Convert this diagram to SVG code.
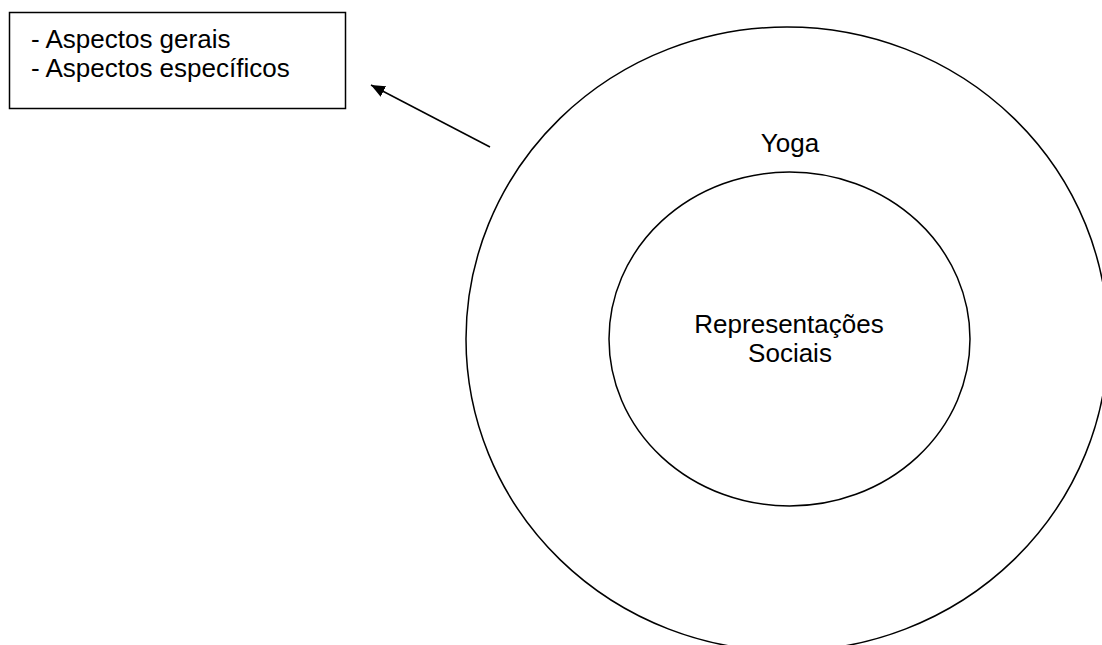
<svg xmlns="http://www.w3.org/2000/svg" width="1102" height="645" viewBox="0 0 1102 645">
<style>
.shape{fill:none;stroke:#000;stroke-width:1.5}
.t{font-family:"Liberation Sans",Arial,sans-serif;font-size:26px;fill:#000}
.c{text-anchor:middle}
</style>
<defs>
<marker id="ah" markerWidth="14" markerHeight="12" refX="14" refY="6" orient="auto" markerUnits="userSpaceOnUse">
<path d="M0,0 L14,6 L0,12 Z" fill="#000"/>
</marker>
</defs>
<rect width="1102" height="645" fill="#fff"/>
<g id="aspectos">
<rect class="shape" x="9.5" y="12.5" width="336" height="96"/>
<text class="t" x="31" y="48">- Aspectos gerais</text>
<text class="t" x="31" y="76.5">- Aspectos específicos</text>
</g>
<g id="yoga">
<ellipse class="shape" cx="787" cy="339" rx="321" ry="312"/>
<text class="t c" x="790" y="151.5">Yoga</text>
</g>
<g id="representacoes">
<ellipse class="shape" cx="789.5" cy="339" rx="180.5" ry="167"/>
<text class="t c" x="789" y="333">Representações</text>
<text class="t c" x="790" y="361.5">Sociais</text>
</g>
<g id="connectors">
<line x1="490" y1="147" x2="371" y2="85" stroke="#000" stroke-width="1.5" marker-end="url(#ah)"/>
</g>
</svg>
